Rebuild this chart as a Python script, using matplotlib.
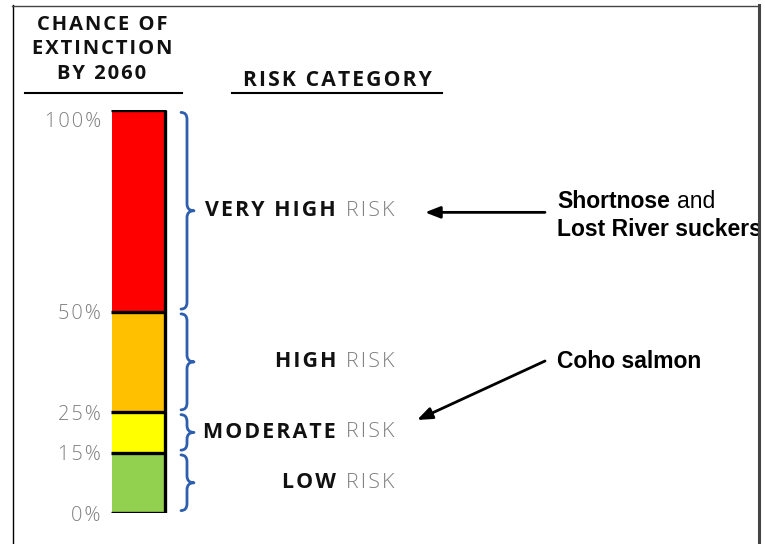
import matplotlib
matplotlib.use('Agg')
import matplotlib.pyplot as plt
from matplotlib.path import Path
from matplotlib.patches import PathPatch
from matplotlib.lines import Line2D

# data
categories = ['LOW', 'MODERATE', 'HIGH', 'VERY HIGH']
bounds = [0, 15, 25, 50, 100]
colors = ['#92D050', '#FFFF00', '#FFC000', '#FF0000']
tick_labels = ['0%', '15%', '25%', '50%', '100%']

W, H = 765, 544
GRAY = '#7f7f7f'
BLUE = '#2e5fae'
FAM = ['Open Sans', 'DejaVu Sans']


def spaced(s):
    return '\u200a'.join(s)


def fx(x):
    return x / W


def fy(y):
    return 1 - y / H


def pct(row):
    # pixel row -> percent on the bar scale
    return (513 - row) / 4.03


fig = plt.figure(figsize=(W / 100, H / 100), dpi=100)
# y axis in percent: 0% at pixel row 513, 100% at row 110
ax = fig.add_axes([0, (H - 513) / H, 1, (513 - 110) / H])
ax.set_xlim(0, W)
ax.set_ylim(0, 100)
ax.axis('off')

# stacked bar
lows = bounds[:-1]
heights = [b - a for a, b in zip(bounds[:-1], bounds[1:])]
bar_x, bar_w = 138.5, 53
ax.bar([bar_x] * len(heights), heights, bottom=lows, width=bar_w, color=colors,
       linewidth=0, zorder=2)
ax.hlines(bounds, bar_x - bar_w / 2 - 1, bar_x + bar_w / 2 + 1.5, color='black', lw=2.4, zorder=3)
ax.vlines(bar_x + bar_w / 2, 0, 100, color='black', lw=2.4, zorder=3)

# tick labels (top one sits just under the bar top)
for v, lab in zip(bounds, tick_labels):
    if v == bounds[-1]:
        ax.text(101, v - 0.4, spaced(lab), ha='right', va='top', color=GRAY, fontsize=14.3,
                family=FAM, fontweight='light')
    else:
        ax.text(101, v - 0.7, spaced(lab), ha='right', va='center', color=GRAY, fontsize=14.3,
                family=FAM, fontweight='light')


# braces
def brace(y0, y1, x0=181, dx=6, tip=7, r=1.7, gap=0.6):
    y0, y1 = y0 + gap, y1 - gap
    mid = (y0 + y1) / 2
    verts = [(x0, y1),
             (x0 + dx, y1), (x0 + dx, y1 - r),
             (x0 + dx, mid + r),
             (x0 + dx, mid), (x0 + dx + tip, mid),
             (x0 + dx, mid), (x0 + dx, mid - r),
             (x0 + dx, y0 + r),
             (x0 + dx, y0), (x0, y0)]
    codes = [Path.MOVETO,
             Path.CURVE3, Path.CURVE3,
             Path.LINETO,
             Path.CURVE3, Path.CURVE3,
             Path.CURVE3, Path.CURVE3,
             Path.LINETO,
             Path.CURVE3, Path.CURVE3]
    ax.add_patch(PathPatch(Path(verts, codes), fill=False, edgecolor=BLUE, lw=2.0,
                           capstyle='round', joinstyle='round'))


mids = {}
for cat, a, b in zip(categories, bounds[:-1], bounds[1:]):
    brace(a, b)
    m = (a + b) / 2
    mids[cat] = m
    ax.text(336, m, spaced(cat), ha='right', va='center', fontsize=15.4, family=FAM,
            fontweight='bold', color='#111111')
    ax.text(346, m, spaced('RISK'), ha='left', va='center', fontsize=15.4, family=FAM,
            fontweight='light', color=GRAY)

# species annotations
sfont = dict(family='Liberation Sans', fontsize=16.5, color='black')
arrow = dict(arrowstyle='-|>,head_length=0.9,head_width=0.35', lw=2, color='black',
             shrinkA=0, shrinkB=0)
ax.annotate('', xy=(425, mids['VERY HIGH'] - 0.4), xytext=(545, mids['VERY HIGH'] - 0.4),
            arrowprops=arrow)
ax.text(557, pct(202), 'Shortnose', ha='left', va='center', fontweight='bold', **sfont)
ax.text(677, pct(202), 'and', ha='left', va='center', **sfont)
ax.text(557, pct(230), 'Lost River suckers', ha='left', va='center',
        fontweight='bold', **sfont)

ax.annotate('', xy=(417, pct(420)), xytext=(545, pct(361)), arrowprops=arrow)
ax.text(557, pct(361), 'Coho salmon', ha='left', va='center', fontweight='bold', **sfont)

# headings
fig.text(fx(102), fy(49.5), '\n'.join(spaced(s) for s in ['CHANCE OF', 'EXTINCTION', 'BY 2060']),
         ha='center', va='center', fontsize=14.5, family=FAM, fontweight='bold',
         linespacing=1.33, color='#111111')
fig.text(fx(337), fy(80), spaced('RISK CATEGORY'), ha='center', va='center', fontsize=15.2,
         family=FAM, fontweight='bold', color='#111111')
fig.add_artist(Line2D([fx(25), fx(182)], [fy(93), fy(93)], color='black', lw=1.5))
fig.add_artist(Line2D([fx(232), fx(442)], [fy(93), fy(93)], color='black', lw=1.5))

# frame
fig.add_artist(Line2D([fx(12.5), fx(12.5)], [fy(5), fy(544)], color='black', lw=1))
fig.add_artist(Line2D([fx(12), fx(759)], [fy(5.5), fy(5.5)], color='#444444', lw=1))
fig.add_artist(Line2D([fx(759), fx(759)], [fy(5), fy(544)], color='#444444', lw=2.2))

fig.savefig('out.png', dpi=100)
